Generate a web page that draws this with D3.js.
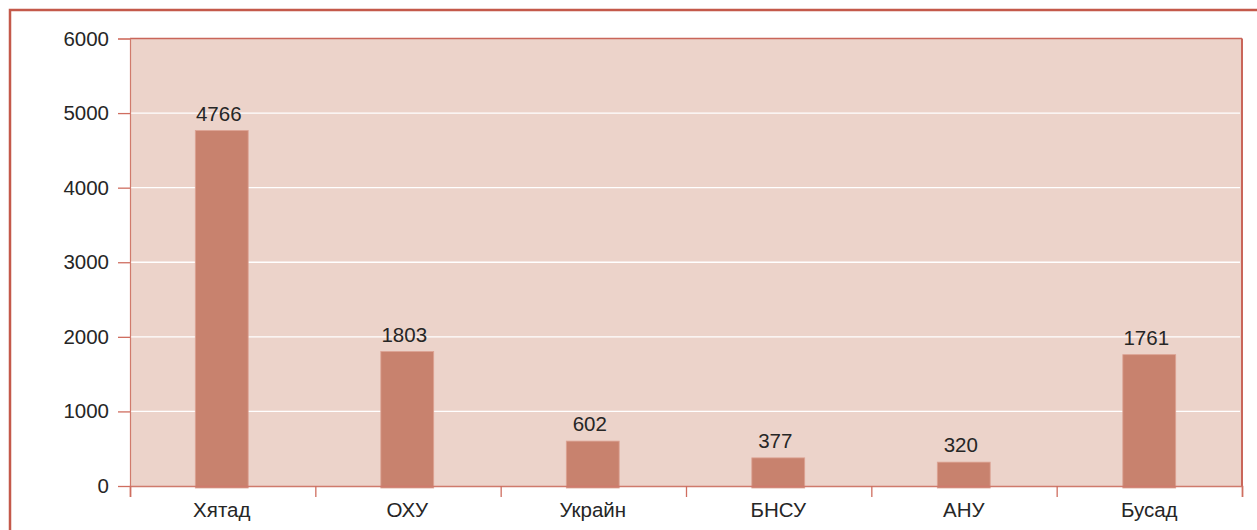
<!DOCTYPE html>
<html>
<head>
<meta charset="utf-8">
<script src="https://cdn.jsdelivr.net/npm/d3@7"></script>
<style>
  html, body { margin: 0; padding: 0; background: #fff; }
  svg { display: block; font-family: "Liberation Sans", Arial, sans-serif; }
</style>
</head>
<body>
<figure id="chart" style="margin:0"></figure>
<script>
// data
const categories = ['Хятад', 'ОХУ', 'Украйн', 'БНСУ', 'АНУ', 'Бусад'];
const values = [4766, 1803, 602, 377, 320, 1761];
const yTicks = [0, 1000, 2000, 3000, 4000, 5000, 6000];

const config = {
  width: 1257,
  height: 530,
  margin: { top: 38.5, right: 15, bottom: 44, left: 130 },
  fontSize: 20.5,
  textColor: '#262626'
};

const plotW = config.width - config.margin.left - config.margin.right;
const plotH = config.height - config.margin.top - config.margin.bottom;

const svg = d3.select('#chart').append('svg')
  .attr('width', config.width)
  .attr('height', config.height);

// outer frame
svg.append('rect')
  .attr('x', 10).attr('y', 10)
  .attr('width', config.width + 20).attr('height', config.height + 20)
  .attr('fill', 'none')
  .attr('stroke', '#c4594a')
  .attr('stroke-width', 2.5);

const g = svg.append('g')
  .attr('transform', `translate(${config.margin.left},${config.margin.top})`);

const x = d3.scaleBand()
  .domain(categories)
  .range([-1, plotW])
  .paddingInner(0.715)
  .paddingOuter(0.3575);

const y = d3.scaleLinear()
  .domain([0, 6000])
  .range([plotH, 0]);

// plot background
g.append('rect')
  .attr('width', plotW).attr('height', plotH)
  .attr('fill', '#ecd3ca');

// gridlines
g.selectAll('.grid')
  .data(yTicks.filter(d => d > 0 && d < 6000))
  .enter()
  .append('line')
  .attr('class', 'grid')
  .attr('x1', 0).attr('x2', plotW - 2)
  .attr('y1', d => y(d)).attr('y2', d => y(d))
  .attr('stroke', '#ffffff')
  .attr('stroke-width', 1.4);

// top and right borders of plot area
g.append('line')
  .attr('x1', 0).attr('x2', plotW)
  .attr('y1', 0).attr('y2', 0)
  .attr('stroke', '#c9665a').attr('stroke-width', 1.3);
g.append('line')
  .attr('x1', plotW).attr('x2', plotW)
  .attr('y1', 0).attr('y2', plotH)
  .attr('stroke', '#c9665a').attr('stroke-width', 2);

// bars
g.selectAll('.bar')
  .data(values)
  .enter()
  .append('rect')
  .attr('class', 'bar')
  .attr('x', (d, i) => x(categories[i]))
  .attr('y', d => y(d))
  .attr('width', x.bandwidth())
  .attr('height', d => plotH - y(d) + 2)
  .attr('fill', '#c8826e')
  .attr('stroke', '#dca293')
  .attr('stroke-width', 0.8);

// value labels
g.selectAll('.value')
  .data(values)
  .enter()
  .append('text')
  .attr('class', 'value')
  .attr('x', (d, i) => x(categories[i]) + x.bandwidth() / 2 - 3)
  .attr('y', d => y(d) - 10)
  .attr('text-anchor', 'middle')
  .attr('fill', config.textColor)
  .style('font-size', config.fontSize + 'px')
  .text(d => d);

// y axis
const yAxis = g.append('g')
  .call(d3.axisLeft(y).tickValues(yTicks).tickSize(12).tickPadding(9).tickFormat(d3.format('d')));
yAxis.select('.domain').attr('stroke', '#d07a6c').attr('stroke-width', 1.2);
yAxis.selectAll('.tick line').attr('stroke', '#cf6e60').attr('stroke-width', 1.3);
yAxis.selectAll('.tick text')
  .attr('fill', config.textColor)
  .style('font-size', config.fontSize + 'px')
  .style('font-family', '"Liberation Sans", Arial, sans-serif');

// x axis: boundary ticks
const xEdges = d3.scaleLinear().domain([0, categories.length]).range([0, plotW]);
const xTickAxis = g.append('g')
  .attr('transform', `translate(0,${plotH})`)
  .call(d3.axisBottom(xEdges).ticks(categories.length).tickSize(11).tickFormat(''));
xTickAxis.select('.domain').attr('stroke', '#cf7a6c').attr('stroke-width', 1.6);
xTickAxis.selectAll('.tick line').attr('stroke', '#cf6e60').attr('stroke-width', 1.3);

// x axis: category labels
const xLabelAxis = g.append('g')
  .attr('transform', `translate(0,${plotH})`)
  .call(d3.axisBottom(x).tickSize(0).tickPadding(16));
xLabelAxis.select('.domain').remove();
xLabelAxis.selectAll('.tick text')
  .attr('fill', config.textColor)
  .style('font-size', config.fontSize + 'px')
  .style('font-family', '"Liberation Sans", Arial, sans-serif');
</script>
</body>
</html>
